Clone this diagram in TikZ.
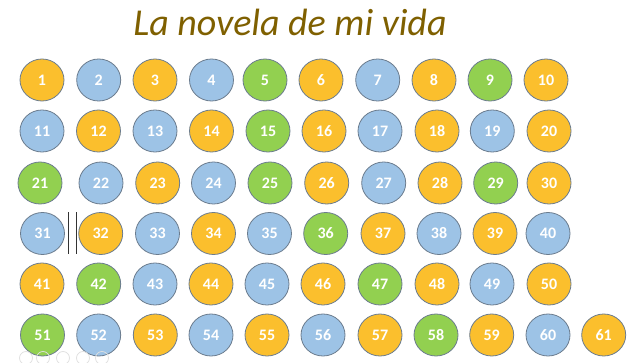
\documentclass[tikz,border=0pt]{standalone}
\usepackage{fontspec}
\setmainfont{Carlito}
\usetikzlibrary{shapes.geometric}
\definecolor{cO}{HTML}{FBBF2D}
\definecolor{cB}{HTML}{9DC3E6}
\definecolor{cG}{HTML}{92D050}
\definecolor{rim}{HTML}{6B7C8E}
\definecolor{titlec}{HTML}{7F6000}
\tikzset{
  ball/.style={ellipse, draw=rim, line width=0.8pt, minimum width=44pt, minimum height=42pt,
    inner sep=0pt, text=white, font=\fontsize{16}{16}\selectfont\bfseries},
  faint/.style={draw=black!12, line width=0.7pt},
  bar/.style={draw=black!80, line width=1pt}
}
\begin{document}
\begin{tikzpicture}[x=1pt,y=-1pt]
\fill[white] (0,0) rectangle (628,363);
\useasboundingbox (0,0) rectangle (628,363);
\node[font=\fontsize{38}{40}\selectfont\itshape, text=titlec, anchor=base, inner sep=0pt] (title) at (290,36) {La novela de mi vida};
\foreach \n/\x/\y/\c in {
 1/42/80/O, 2/98.7/80/B, 3/155/80/O, 4/211.5/80/B, 5/265/80/G, 6/321/80/O, 7/377.7/80/B, 8/434/80/O, 9/490/80/G, 10/546/80/O,
 11/42/131/B, 12/98.5/131/O, 13/155/131/B, 14/211.5/131/O, 15/268/131/G, 16/324/131/O, 17/380/131/B, 18/437/131/O, 19/492.3/131/B, 20/549/131/O,
 21/40/183/G, 22/101/183/B, 23/157.7/183/O, 24/213.5/183/B, 25/270/183/G, 26/326.7/183/O, 27/383.7/183/B, 28/440/183/O, 29/495.7/183/G, 30/549/183/O,
 31/42.5/233.5/B, 32/100.7/233.5/O, 33/157.5/233.5/B, 34/213.5/233.5/O, 35/269.5/233.5/B, 36/325.7/233.5/G, 37/383/233.5/O, 38/439/233.5/B, 39/495/233.5/O, 40/548/233.5/B,
 41/42/284/O, 42/98.7/284/G, 43/155/284/B, 44/211/284/O, 45/267/284/B, 46/323/284/O, 47/380/284/G, 48/437/284/O, 49/492/284/B, 50/549/284/O,
 51/42.5/335/G, 52/98.7/335/B, 53/155.3/335/O, 54/211/335/B, 55/267/335/O, 56/323/335/B, 57/380/335/O, 58/436/335/G, 59/491.7/335/O, 60/548/335/B, 61/603.7/335/O}
 {\node[ball, fill=c\c] (n\n) at (\x,\y) {\n};}
\draw[bar] (68.3,212) -- (68.3,254);
\draw[bar] (76.7,212) -- (76.7,254);
\foreach \x in {26,43,63,83,102} {\draw[faint] (\x,358) circle (6.5);}
\end{tikzpicture}
\end{document}
